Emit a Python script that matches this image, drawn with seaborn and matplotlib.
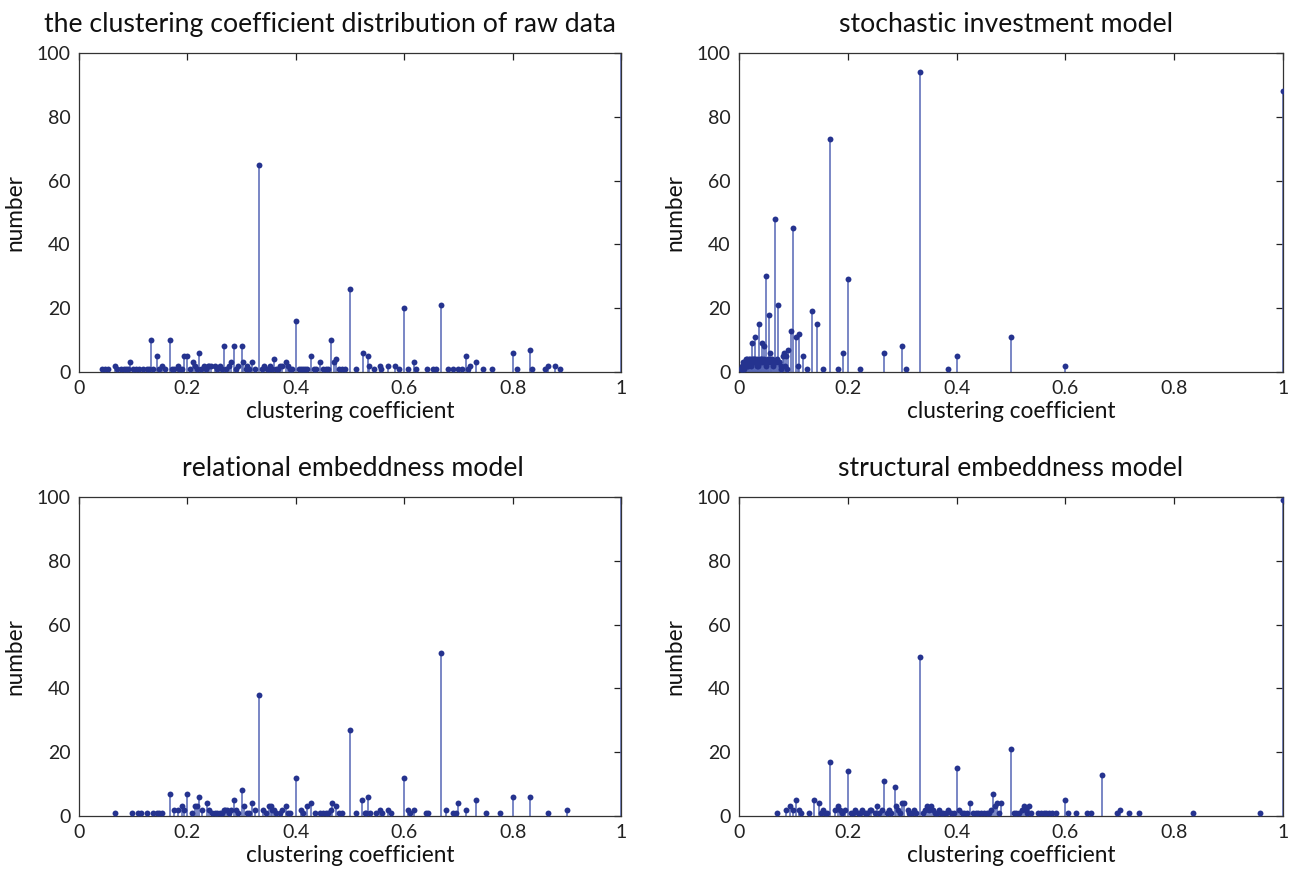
import matplotlib
matplotlib.use("Agg")
import matplotlib.pyplot as plt
import seaborn as sns
import pandas as pd

# ---------------- data ----------------
raw_x = [0.042, 0.048, 0.054, 0.067, 0.071, 0.077, 0.083, 0.087, 0.091, 0.095, 0.1, 0.105, 0.111, 0.118,
         0.125, 0.129, 0.133, 0.137, 0.143, 0.148, 0.154, 0.158, 0.167, 0.171, 0.176, 0.182, 0.185, 0.19,
         0.194, 0.2, 0.205, 0.21, 0.214, 0.218, 0.222, 0.226, 0.231, 0.235, 0.238, 0.24, 0.244, 0.25, 0.255,
         0.26, 0.263, 0.267, 0.271, 0.276, 0.28, 0.286, 0.29, 0.294, 0.3, 0.303, 0.308, 0.31, 0.314, 0.32,
         0.325, 0.333, 0.337, 0.342, 0.346, 0.35, 0.353, 0.357, 0.36, 0.364, 0.368, 0.37, 0.375, 0.381,
         0.385, 0.389, 0.393, 0.4, 0.405, 0.41, 0.414, 0.417, 0.421, 0.428, 0.433, 0.438, 0.444, 0.45,
         0.455, 0.46, 0.465, 0.47, 0.475, 0.48, 0.485, 0.49, 0.5, 0.511, 0.524, 0.533, 0.535, 0.545, 0.555,
         0.558, 0.571, 0.583, 0.59, 0.6, 0.607, 0.618, 0.621, 0.642, 0.653, 0.659, 0.667, 0.68, 0.69, 0.7,
         0.706, 0.714, 0.718, 0.722, 0.733, 0.745, 0.762, 0.8, 0.808, 0.833, 0.836, 0.86, 0.866, 0.878,
         0.888, 1.0]
raw_y = [1, 1, 1, 2, 1, 1, 1, 1, 1, 3, 1, 1, 1, 1,
         1, 1, 10, 1, 5, 1, 2, 1, 10, 1, 1, 2, 1, 1,
         5, 5, 1, 3, 2, 1, 6, 1, 2, 1, 2, 2, 2, 2, 1,
         2, 1, 8, 1, 2, 3, 8, 1, 2, 8, 3, 1, 2, 1, 3,
         1, 65, 1, 2, 1, 1, 2, 1, 4, 1, 1, 2, 2, 3,
         2, 1, 1, 16, 1, 1, 1, 1, 1, 5, 1, 1, 3, 1,
         1, 1, 10, 3, 4, 1, 1, 1, 26, 1, 6, 5, 2, 1, 2,
         1, 2, 2, 1, 20, 1, 3, 1, 1, 1, 1, 21, 1, 1, 1,
         1, 5, 1, 2, 3, 1, 1, 6, 1, 7, 1, 1, 2, 2,
         1, 130]

sto_x = [0.004, 0.005, 0.006, 0.007, 0.008, 0.009, 0.010, 0.011, 0.012, 0.013, 0.014, 0.015, 0.016,
         0.017, 0.018, 0.019, 0.020, 0.021, 0.022, 0.0233, 0.024, 0.025, 0.026, 0.027, 0.028, 0.0286,
         0.029, 0.030, 0.031, 0.0323, 0.0333, 0.0345, 0.0357, 0.037, 0.0385, 0.039, 0.040, 0.041, 0.0417,
         0.043, 0.044, 0.0455, 0.046, 0.0476, 0.049, 0.05, 0.051, 0.0526, 0.054, 0.0556, 0.0571, 0.058,
         0.0588, 0.0606, 0.0625, 0.0645, 0.0667, 0.068, 0.069, 0.0714, 0.073, 0.0741, 0.0769, 0.078,
         0.08, 0.0833, 0.085, 0.087, 0.089, 0.0909, 0.0952, 0.1, 0.1053, 0.108, 0.1111, 0.1176, 0.125,
         0.1333, 0.1429, 0.1538, 0.1667, 0.1818, 0.1905, 0.2, 0.2222, 0.2667, 0.3, 0.3077, 0.3333,
         0.3846, 0.4, 0.5, 0.6, 1.0]
sto_y = [1, 2, 1, 3, 2, 1, 3, 2, 4, 3, 2, 4, 3, 2, 4, 3, 4, 3, 2, 9, 4, 3, 4, 3, 4, 11,
         3, 4, 3, 2, 4, 3, 2, 15, 4, 3, 4, 3, 9, 4, 3, 8, 4, 3, 2, 30, 3, 4, 3, 18, 6, 4,
         3, 4, 2, 3, 48, 3, 4, 21, 3, 3, 2, 1, 5, 6, 2, 5, 1, 7, 13, 45, 11, 2, 12, 5, 1,
         19, 15, 1, 73, 1, 6, 29, 1, 6, 8, 1, 94, 1, 5, 11, 2, 88]

rel_x = [0.066, 0.098, 0.109, 0.115, 0.126, 0.137, 0.143, 0.148, 0.153, 0.167, 0.176, 0.182, 0.19,
         0.194, 0.2, 0.208, 0.214, 0.218, 0.222, 0.227, 0.237, 0.24, 0.245, 0.25, 0.255, 0.26, 0.263,
         0.267, 0.27, 0.273, 0.276, 0.28, 0.286, 0.29, 0.294, 0.3, 0.304, 0.31, 0.313, 0.32, 0.325,
         0.333, 0.34, 0.345, 0.35, 0.354, 0.357, 0.36, 0.364, 0.37, 0.375, 0.381, 0.385, 0.39, 0.4,
         0.41, 0.414, 0.421, 0.428, 0.435, 0.444, 0.45, 0.455, 0.46, 0.465, 0.467, 0.475, 0.48, 0.485,
         0.5, 0.511, 0.523, 0.527, 0.529, 0.533, 0.536, 0.548, 0.555, 0.559, 0.571, 0.576, 0.6, 0.607,
         0.61, 0.618, 0.64, 0.643, 0.667, 0.678, 0.69, 0.695, 0.7, 0.714, 0.733, 0.75, 0.777, 0.8, 0.833,
         0.866, 0.9, 1.0]
rel_y = [1, 1, 1, 1, 1, 1, 1, 1, 1, 7, 2, 2, 3, 2, 7, 1, 3, 3, 6, 2, 4, 2, 1, 1, 1, 1, 1,
         2, 2, 2, 1, 2, 5, 2, 1, 8, 3, 1, 1, 4, 2, 38, 2, 1, 3, 3, 2, 2, 1, 1, 2, 3, 1, 1, 12,
         2, 1, 3, 4, 1, 1, 1, 1, 1, 2, 4, 3, 1, 1, 27, 1, 5, 1, 1, 6, 1, 1, 2, 1, 2, 1, 12, 2,
         1, 2, 1, 1, 51, 2, 1, 1, 4, 2, 5, 1, 1, 6, 6, 1, 2, 130]

str_x = [0.07, 0.087, 0.093, 0.099, 0.104, 0.11, 0.114, 0.129, 0.137, 0.1465, 0.15, 0.154, 0.158,
         0.162, 0.167, 0.176, 0.182, 0.186, 0.19, 0.195, 0.2, 0.206, 0.21, 0.214, 0.218, 0.222, 0.226,
         0.231, 0.235, 0.24, 0.243, 0.25, 0.253, 0.258, 0.263, 0.267, 0.272, 0.276, 0.28, 0.286, 0.288,
         0.292, 0.296, 0.3, 0.304, 0.31, 0.313, 0.318, 0.322, 0.326, 0.333, 0.338, 0.342, 0.346, 0.35,
         0.353, 0.357, 0.36, 0.364, 0.368, 0.372, 0.375, 0.38, 0.385, 0.39, 0.395, 0.4, 0.405, 0.41,
         0.414, 0.42, 0.425, 0.43, 0.435, 0.44, 0.444, 0.45, 0.455, 0.46, 0.464, 0.467, 0.471, 0.474,
         0.478, 0.482, 0.5, 0.505, 0.51, 0.515, 0.52, 0.524, 0.527, 0.53, 0.533, 0.536, 0.55, 0.555,
         0.56, 0.565, 0.57, 0.575, 0.583, 0.6, 0.605, 0.62, 0.64, 0.647, 0.667, 0.695, 0.7, 0.716,
         0.735, 0.834, 0.957, 1.0]
str_y = [1, 2, 3, 2, 5, 2, 1, 1, 5, 4, 1, 2, 1, 1, 17, 2, 3, 2, 1, 2, 14, 1, 1, 2, 1, 1, 2,
         1, 1, 2, 2, 1, 3, 1, 2, 11, 1, 2, 1, 9, 3, 2, 1, 4, 4, 2, 1, 1, 2, 1, 50, 1, 2, 3, 2,
         3, 2, 1, 1, 2, 1, 1, 1, 2, 1, 1, 15, 2, 1, 1, 1, 4, 1, 1, 1, 1, 1, 1, 1, 2, 7, 3, 4,
         1, 4, 21, 1, 1, 1, 2, 3, 2, 1, 3, 1, 1, 1, 1, 1, 1, 1, 1, 5, 1, 1, 1, 1, 13, 1, 2, 1,
         1, 1, 1, 99]

titles = ["the clustering coefficient distribution of raw data",
          "stochastic investment model",
          "relational embeddness model",
          "structural embeddness model"]
xlabel = "clustering coefficient"
ylabel = "number"
xticks = [0, 0.2, 0.4, 0.6, 0.8, 1]
xticklabels = ["0", "0.2", "0.4", "0.6", "0.8", "1"]
yticks = [0, 20, 40, 60, 80, 100]

# ---------------- style ----------------
sns.set_style("white")
plt.rcParams['font.family'] = ['Lato', 'DejaVu Sans']

stem_color = "#5566b5"
dot_color = "#25338f"

fig = plt.figure(figsize=(12.95, 8.75), dpi=100)
positions = [
    [79 / 1295, 1 - 372 / 875, 542 / 1295, 319 / 875],
    [739 / 1295, 1 - 372 / 875, 544 / 1295, 319 / 875],
    [79 / 1295, 1 - 816 / 875, 542 / 1295, 319 / 875],
    [739 / 1295, 1 - 816 / 875, 544 / 1295, 319 / 875],
]
title_x = [0.463, 0.49, 0.505, 0.5]
datasets = [(raw_x, raw_y), (sto_x, sto_y), (rel_x, rel_y), (str_x, str_y)]

for pos, (xs, ys), title, tx in zip(positions, datasets, titles, title_x):
    ax = fig.add_axes(pos)
    df = pd.DataFrame({"x": xs, "y": ys})
    ax.vlines(df["x"], 0, df["y"], color=stem_color, linewidth=1.1, zorder=2)
    sns.scatterplot(data=df, x="x", y="y", ax=ax, color=dot_color, s=18,
                    edgecolor=dot_color, linewidth=0, zorder=3)
    ax.set_xlim(0, 1)
    ax.set_ylim(0, 100)
    ax.set_xticks(xticks)
    ax.set_xticklabels(xticklabels)
    ax.set_yticks(yticks)
    ax.tick_params(direction="in", top=True, right=True, length=5, width=0.9,
                   labelsize=14, colors="#222222", pad=6)
    for sp in ax.spines.values():
        sp.set_visible(True)
        sp.set_color("#333333")
        sp.set_linewidth(0.9)
    ax.set_xlabel(xlabel, fontsize=16.3, labelpad=3, color="#111111")
    ax.set_ylabel(ylabel, fontsize=16.3, labelpad=8, color="#111111")
    ax.set_title(title, fontsize=19.2, pad=15, color="#111111", x=tx)

fig.savefig("out.png", dpi=100)
